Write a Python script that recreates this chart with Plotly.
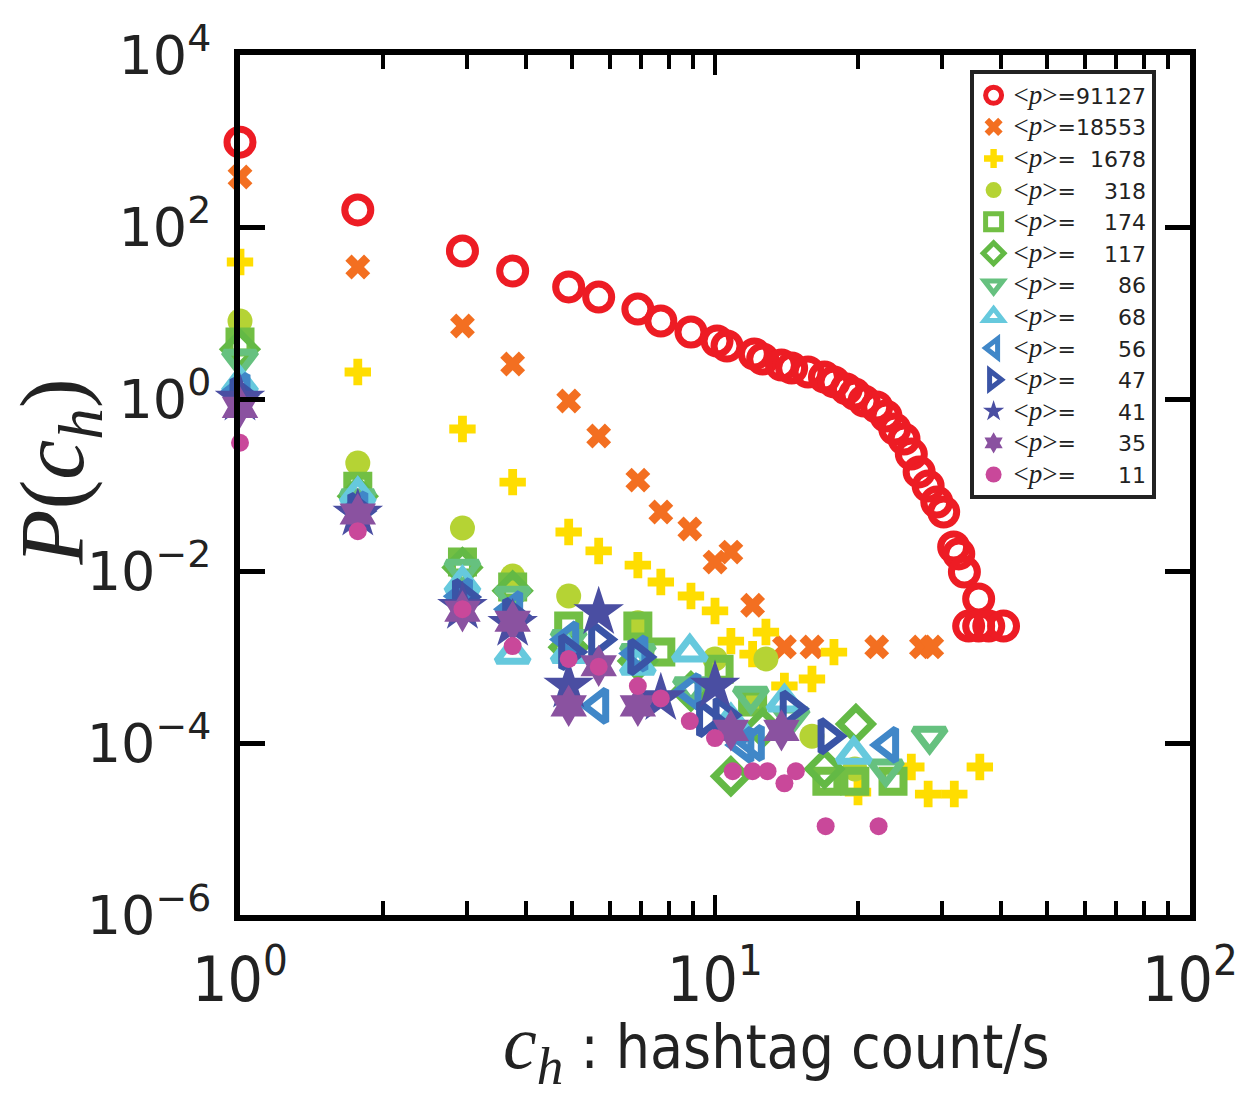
import plotly.graph_objects as go

# ---- data ----
labels = ["91127", "18553", "1678", "318", "174", "117", "86", "68", "56", "47", "41", "35", "11"]

x_91127 = [1, 1.77, 2.94, 3.75, 4.92, 5.69, 6.88, 7.69, 8.9, 10.1, 10.6, 12.1, 12.6, 13.8, 14.5, 15.7, 17.0, 17.8, 18.9, 19.7,
           20.6, 21.9, 22.9, 23.9, 25.0, 25.9, 26.9, 28.1, 29.3, 30.3, 31.8, 32.6, 33.5, 35.9, 34.2, 35.9, 37.7, 40.5]
y_91127 = [970, 158, 52.6, 30.8, 20.1, 15.3, 11.1, 8.07, 6.01, 4.72, 4.13, 3.34, 2.92, 2.48, 2.29, 2.06, 1.80, 1.58, 1.31, 1.14,
           0.948, 0.807, 0.634, 0.448, 0.343, 0.229, 0.142, 0.0974, 0.0634, 0.0485, 0.0190, 0.0158, 0.00973, 0.00472,
           0.00229, 0.00229, 0.00229, 0.00229]

x_18553 = [1, 1.77, 2.94, 3.75, 4.92, 5.69, 6.88, 7.69, 8.85, 10.0, 10.8, 12.0, 14.0, 16.0, 21.9, 27.2, 28.6]
y_18553 = [381, 34.3, 7.06, 2.55, 0.948, 0.371, 0.114, 0.0485, 0.0308, 0.0127, 0.0166, 0.0040, 0.00131, 0.00131, 0.00131,
           0.00131, 0.00131]

x_1678 = [1, 1.77, 2.94, 3.75, 4.92, 5.69, 6.88, 7.69, 8.9, 10.0, 10.8, 12.8, 12.0, 14.0, 16.0, 17.8, 20.0, 25.9, 28.1, 31.9, 36.1]
y_1678 = [39.2, 2.06, 0.448, 0.108, 0.0284, 0.0171, 0.0117, 0.00745, 0.00512, 0.00343, 0.00153, 0.00195, 0.00108, 0.00046,
          0.000555, 0.00114, 2.69e-5, 5.26e-5, 2.55e-5, 2.55e-5, 5.26e-5]

x_318 = [1, 1.77, 2.94, 3.75, 4.92, 6.88, 10.0, 12.8, 12.0, 16.0, 19.7]
y_318 = [8.07, 0.18, 0.0316, 0.00875, 0.00512, 0.0025, 0.00095, 0.00095, 0.0003, 0.00012, 5e-5]

x_174 = [1, 1.77, 2.94, 3.75, 4.92, 6.88, 7.69, 10.2, 12.0, 17.2, 19.7, 23.7]
y_174 = [4.6, 0.097, 0.0127, 0.0065, 0.0023, 0.0023, 0.00114, 0.00072, 0.0003, 3.6e-5, 3.6e-5, 3.6e-5]

x_117 = [1, 1.77, 2.94, 3.75, 4.92, 6.88, 8.9, 10.8, 12.6, 19.8, 17.0]
y_117 = [3.8, 0.074, 0.011, 0.0059, 0.0013, 0.0009, 0.0004, 4.1e-5, 1.5e-4, 1.66e-4, 5e-5]

x_86 = [1, 1.77, 2.94, 3.75, 4.92, 6.88, 8.9, 11.9, 14.5, 22.9, 28.3]
y_86 = [2.9, 0.069, 0.0105, 0.0051, 0.0016, 0.0011, 0.00045, 0.00035, 0.0002, 5e-5, 1.2e-4]

x_68 = [1, 1.77, 2.94, 3.75, 4.92, 6.88, 8.85, 10.8, 14.0, 19.6]
y_68 = [1.5, 0.077, 0.0071, 0.00108, 0.0011, 0.0008, 0.00114, 0.00018, 0.0003, 7.4e-5]

x_56 = [1, 1.77, 2.94, 3.75, 4.92, 5.69, 6.88, 8.9, 11.5, 12.1, 23.2]
y_56 = [1.24, 0.052, 0.0051, 0.0036, 0.0016, 0.00027, 0.0011, 0.0004, 9.5e-5, 1.0e-4, 9.5e-5]

x_47 = [1, 1.77, 2.94, 3.75, 4.92, 5.69, 6.88, 9.6, 10.4, 14.4, 17.3]
y_47 = [1.1, 0.05, 0.005, 0.003, 0.00114, 0.0016, 0.001, 1.9e-4, 2.1e-4, 2.5e-4, 1.2e-4]

x_41 = [1, 1.77, 2.94, 3.75, 4.92, 5.69, 7.69, 10.0]
y_41 = [1.0, 0.046, 0.0038, 0.0024, 0.00046, 0.0033, 0.00033, 0.00046]

x_35 = [1, 1.77, 2.94, 3.75, 4.92, 5.69, 6.88, 10.8, 13.8]
y_35 = [0.8, 0.046, 0.0034, 0.0026, 0.00027, 0.00079, 0.00027, 0.00014, 0.00014]

x_11 = [1, 1.77, 2.94, 3.75, 4.92, 5.69, 6.88, 7.69, 8.85, 10.0, 10.9, 12.0, 12.9, 14.0, 14.8, 17.1, 22.1]
y_11 = [0.31, 0.029, 0.0036, 0.00134, 0.00095, 0.00077, 0.00046, 0.00033, 0.00018, 0.000114, 4.7e-5, 4.7e-5, 4.7e-5,
        3.4e-5, 4.7e-5, 1.08e-5, 1.08e-5]

xs = [x_91127, x_18553, x_1678, x_318, x_174, x_117, x_86, x_68, x_56, x_47, x_41, x_35, x_11]
ys = [y_91127, y_18553, y_1678, y_318, y_174, y_117, y_86, y_68, y_56, y_47, y_41, y_35, y_11]

y_tickvals = [1e-6, 1e-4, 1e-2, 1, 1e2, 1e4]
y_ticktext = ["10<sup>−6</sup>", "10<sup>−4</sup>", "10<sup>−2</sup>", "10<sup>0</sup>", "10<sup>2</sup>", "10<sup>4</sup>"]
x_tickvals = [1, 10, 100]
x_ticktext = ["10<sup>0</sup>", "10<sup>1</sup>", "10<sup>2</sup>"]

# ---- styles ----
styles = [
    dict(symbol="circle-open", color="#ed1c24", size=26, lw=7),
    dict(symbol="x", color="#f36f21", size=22, lw=0),
    dict(symbol="cross", color="#ffdd00", size=22, lw=0),
    dict(symbol="circle", color="#b5d334", size=25, lw=0),
    dict(symbol="square-open", color="#72bf44", size=21, lw=8),
    dict(symbol="diamond-open", color="#63b945", size=25, lw=7),
    dict(symbol="triangle-down-open", color="#66c17f", size=28, lw=7),
    dict(symbol="triangle-up-open", color="#66c9dd", size=28, lw=7),
    dict(symbol="triangle-left-open", color="#4087c8", size=28, lw=7),
    dict(symbol="triangle-right-open", color="#3a54a6", size=28, lw=7),
    dict(symbol="star", color="#4a4ea2", size=38, lw=0),
    dict(symbol="hexagram", color="#8a52a0", size=32, lw=0),
    dict(symbol="circle", color="#c9489a", size=18, lw=0),
]

fig = go.Figure()
for lab, xv, yv, st in zip(labels, xs, ys, styles):
    pad = "\u2007" * (5 - len(lab))
    name = ("<span style=\"font-family:'Liberation Serif'; font-size:27px\">&lt;<i>p</i>&gt;</span>=" + pad + lab)
    fig.add_trace(go.Scatter(
        x=xv, y=yv, mode="markers", name=name,
        marker=dict(symbol=st["symbol"], color=st["color"], size=st["size"],
                    line=dict(width=st["lw"], color=st["color"])),
        cliponaxis=False,
    ))

fig.update_layout(
    width=1254, height=1099,
    margin=dict(l=240, r=64, t=55, b=184),
    paper_bgcolor="white", plot_bgcolor="white",
    showlegend=True,
    legend=dict(
        x=0.768, y=0.982, xanchor="left", yanchor="top",
        bgcolor="white", bordercolor="#222222", borderwidth=4,
        font=dict(family="DejaVu Sans", size=22, color="#222222"),
        tracegroupgap=0, itemwidth=30,
    ),
    xaxis=dict(
        type="log", range=[0, 2],
        showgrid=False, zeroline=False,
        showline=True, linewidth=6, linecolor="black", mirror="allticks",
        ticks="inside", ticklen=20, tickwidth=4, tickcolor="black",
        tickvals=x_tickvals, ticktext=x_ticktext,
        tickfont=dict(family="DejaVu Sans Condensed, Liberation Sans Narrow, Liberation Sans", size=62, color="#222222"),
        ticklabelstandoff=6,
        minor=dict(ticks="inside", ticklen=14, tickwidth=4, tickcolor="black", dtick="D1", showgrid=False),
    ),
    yaxis=dict(
        type="log", range=[-6, 4],
        showgrid=False, zeroline=False,
        showline=True, linewidth=6, linecolor="black", mirror="allticks",
        ticks="inside", ticklen=25, tickwidth=5, tickcolor="black",
        tickvals=y_tickvals, ticktext=y_ticktext,
        tickfont=dict(family="DejaVu Sans", size=54, color="#222222"),
        ticklabelstandoff=12,
    ),
    annotations=[
        dict(text="<i>P</i>(<i>c<sub>h</sub></i>)", xref="paper", yref="paper", x=-0.19, y=0.515,
             textangle=-90, showarrow=False, xanchor="center", yanchor="middle",
             font=dict(family="Liberation Serif", size=90, color="#222222")),
        dict(text="<span style=\"font-family:'Liberation Serif'; font-size:76px\"><i>c<sub>h</sub></i></span> : hashtag count/s",
             xref="paper", yref="paper", x=0.565, y=-0.155, showarrow=False,
             xanchor="center", yanchor="middle",
             font=dict(family="DejaVu Sans Condensed, Liberation Sans Narrow, Liberation Sans", size=60, color="#222222")),
    ],
)

fig.write_html("out.html")
